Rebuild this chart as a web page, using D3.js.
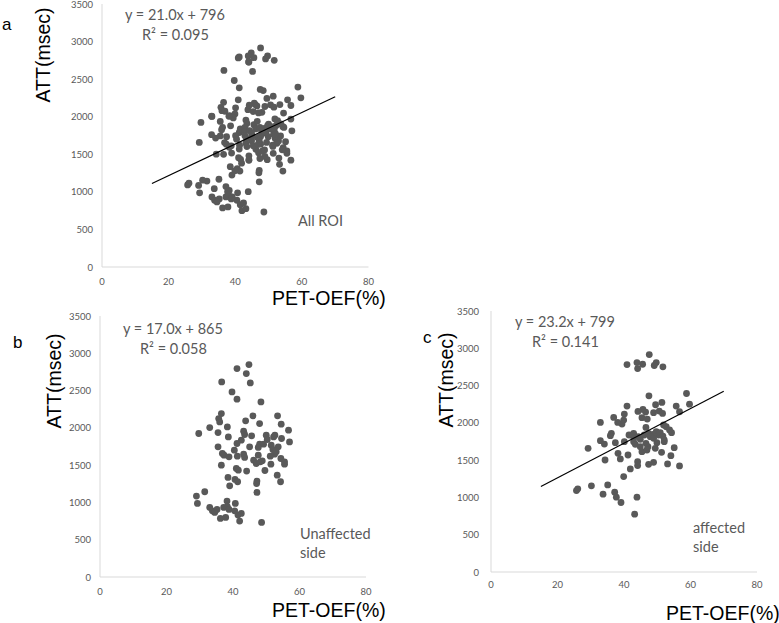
<!DOCTYPE html>
<head>
    <meta charset="utf-8">
    <script src="https://d3js.org/d3.v7.min.js"></script>
    <style>
        body { margin:0; background:#fff; }
        .tick-label { font-family: Lato, "Open Sans", sans-serif; font-size: 9.5px; fill: #595959; }
        .note { font-family: Lato, "Open Sans", sans-serif; font-size: 14.5px; fill: #595959; }
        .title { font-family: "Liberation Sans", Arial, sans-serif; font-size: 19.5px; fill: #000; }
        .panel { font-family: "Liberation Sans", Arial, sans-serif; font-size: 17px; fill: #000; }
    </style>
</head>
<body>
<script>
    // PET-OEF(%) vs ATT(msec), unaffected side
    var unaffected = [
        [44.8,2848],[41.2,2795],[44,2728],[36.6,2616],[45.2,2603],[39.7,2482],[41.2,2384],[48.4,2348],
        [53.4,2161],[46,2161],[36.5,2192],[35.7,2125],[36,2080],[43.8,2094],[54.5,2049],[48,2058],
        [33,2004],[38.3,2013],[56.7,1969],[29.7,1924],[35.5,1937],[43.2,1955],[43.5,1911],[38.6,1879],
        [45.6,1893],[50,1902],[50.3,1844],[52.2,1879],[52.6,1902],[54.6,1857],[57,1812],[42.5,1835],
        [41.2,1790],[48,1781],[49.2,1781],[51.5,1768],[53.6,1745],[45,1745],[35.5,1745],[47.6,1737],
        [36.8,1656],[40.4,1701],[52,1710],[53,1678],[47.6,1634],[52.5,1647],[37.3,1634],[38.8,1612],
        [41.3,1620],[43.2,1647],[43.5,1603],[51.2,1620],[54.4,1589],[46.2,1567],[47,1522],[48.2,1545],
        [48.8,1558],[51.4,1513],[55.5,1545],[55.5,1513],[36.5,1500],[41,1455],[41.6,1433],[44.1,1420],
        [49.6,1428],[53.3,1366],[54.3,1277],[38.5,1335],[40.6,1308],[41.4,1277],[47.2,1286],[47.1,1254],
        [39,1223],[47.2,1134],[31.5,1143],[29,1085],[29.3,987],[40.7,987],[38.2,1018],[33,933],
        [33.8,888],[35.2,906],[38.3,942],[37.2,933],[38.8,906],[34.5,866],[40.5,888],[41.5,830],
        [42.5,853],[36.2,786],[37.8,799],[42,750],[48.6,732]
    ];

    // affected side
    var affected = [
        [47.6,2916],[40.9,2782],[43.9,2809],[44.1,2728],[45.6,2786],[49.7,2809],[49.1,2769],[51.7,2751],
        [58.8,2394],[47.5,2363],[59.7,2251],[51.4,2274],[49.5,2243],[40.9,2225],[55.7,2225],[45.7,2180],
        [44.2,2153],[46.5,2144],[48.9,2136],[50.6,2158],[51.6,2127],[56.7,2149],[40.1,2118],[36.9,2073],
        [45.4,2069],[47,2051],[39.9,2037],[39.4,1984],[38.1,2006],[32.9,2006],[46.6,1939],[51.9,1971],
        [52.7,1948],[53.7,1904],[54.3,1868],[36.2,1859],[35.9,1828],[41.5,1837],[42.9,1859],[42.9,1806],
        [44.3,1815],[46.1,1837],[47.4,1859],[48.7,1846],[49.7,1881],[50.4,1837],[50.9,1868],[51.7,1823],
        [47.9,1815],[48.9,1792],[44.9,1779],[32.9,1761],[34.1,1716],[37.4,1734],[40.1,1748],[42.9,1748],
        [43.4,1712],[46.6,1725],[49.9,1734],[52.1,1748],[44.9,1681],[47.2,1681],[52.1,1770],[49.4,1658],
        [29.2,1658],[55.1,1667],[45.4,1614],[46.9,1636],[51.3,1605],[38.2,1592],[41.2,1569],[54.1,1560],
        [38.9,1516],[34.3,1502],[44.1,1480],[48.9,1471],[47.4,1444],[44.1,1427],[53.1,1449],[56.7,1422],
        [41.9,1382],[39.9,1280],[25.7,1092],[26.1,1115],[30.2,1155],[35.1,1168],[37.2,1070],[33.7,1043],
        [37.7,1003],[43.9,1003],[39.1,932],[43.2,776]
    ];

    var allRoi = unaffected.concat(affected);

    var xTicks = [0, 20, 40, 60, 80];
    var yTicks = [0, 500, 1000, 1500, 2000, 2500, 3000, 3500];

    var svg = d3.select("body").append("svg")
        .attr("width", 779)
        .attr("height", 623);

    function drawPanel(p) {
        var x = d3.scaleLinear().domain([0, 80]).range([p.left, p.right]);
        var y = d3.scaleLinear().domain([0, 3500]).range([p.bottom, p.top]);
        var g = svg.append("g");

        // axis lines
        g.append("line")
            .attr("x1", x(0)).attr("x2", x(0))
            .attr("y1", y(3500)).attr("y2", y(0))
            .attr("stroke", "#d9d9d9").attr("stroke-width", 1);
        g.append("line")
            .attr("x1", x(0)).attr("x2", x(80))
            .attr("y1", y(0)).attr("y2", y(0))
            .attr("stroke", "#d9d9d9").attr("stroke-width", 1);

        g.selectAll(".yl").data(yTicks).enter().append("text")
            .attr("class", "tick-label")
            .attr("x", x(0) - p.ygap)
            .attr("y", function(d) { return y(d) + 3.5; })
            .attr("text-anchor", "end")
            .text(function(d) { return d; });

        g.selectAll(".xl").data(xTicks).enter().append("text")
            .attr("class", "tick-label")
            .attr("x", function(d) { return x(d); })
            .attr("y", y(0) + p.xlab)
            .attr("text-anchor", "middle")
            .text(function(d) { return d; });

        g.selectAll("circle").data(p.data).enter().append("circle")
            .attr("cx", function(d) { return x(d[0]); })
            .attr("cy", function(d) { return y(d[1]); })
            .attr("r", 3.4)
            .attr("fill", "#595959");

        if (p.fit) {
            var line = d3.line()
                .x(function(d) { return x(d); })
                .y(function(d) { return y(p.fit[0] * d + p.fit[1]); });
            g.append("path")
                .attr("d", line([15, 70]))
                .attr("stroke", "black")
                .attr("stroke-width", 1.2)
                .attr("fill", "none");
        }

        g.append("text").attr("class", "note")
            .attr("x", p.eq[0]).attr("y", p.eq[1])
            .text(p.eqText);
        g.append("text").attr("class", "note")
            .attr("x", p.eq[0] + 17).attr("y", p.eq[1] + 20)
            .text(p.r2Text);

        p.label.forEach(function(t, i) {
            g.append("text").attr("class", "note")
                .attr("x", p.labelPos[0]).attr("y", p.labelPos[1] + i * 19)
                .text(t);
        });

        g.append("text").attr("class", "title")
            .attr("x", p.xt[0]).attr("y", p.xt[1])
            .text("PET-OEF(%)");
        g.append("text").attr("class", "title")
            .attr("transform", "translate(" + p.yt[0] + "," + p.yt[1] + ") rotate(-90)")
            .attr("text-anchor", "middle")
            .text("ATT(msec)");

        g.append("text").attr("class", "panel")
            .attr("x", p.tag[0]).attr("y", p.tag[1])
            .text(p.tagText);
    }

    drawPanel({
        data: allRoi, left: 102, right: 368.5, top: 4, bottom: 267, xlab: 18, ygap: 9,
        fit: [21.0, 796], eq: [125, 20], eqText: "y = 21.0x + 796", r2Text: "R\u00b2 = 0.095",
        label: ["All ROI"], labelPos: [298, 226],
        xt: [272, 305], yt: [50, 55], tag: [2, 30], tagText: "a"
    });

    drawPanel({
        data: unaffected, left: 100, right: 366, top: 316, bottom: 577, xlab: 18, ygap: 9,
        fit: null, eq: [123, 334], eqText: "y = 17.0x + 865", r2Text: "R\u00b2 = 0.058",
        label: ["Unaffected", "side"], labelPos: [300, 539],
        xt: [272, 617], yt: [61, 381], tag: [13, 348], tagText: "b"
    });

    drawPanel({
        data: affected, left: 491, right: 757, top: 311, bottom: 572, xlab: 16, ygap: 12,
        fit: [23.2, 799], eq: [515, 327], eqText: "y = 23.2x + 799", r2Text: "R\u00b2 = 0.141",
        label: ["affected", "side"], labelPos: [693, 533],
        xt: [666, 620], yt: [453, 380], tag: [423, 343], tagText: "c"
    });
</script>
</body>
